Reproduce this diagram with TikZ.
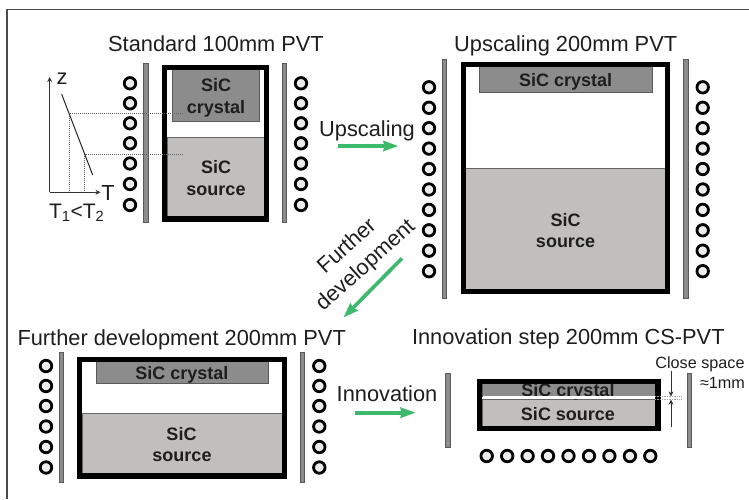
\documentclass[tikz,border=0pt]{standalone}
\usepackage{fontspec}
\setmainfont{Liberation Sans}
\usepackage{xcolor}
\usetikzlibrary{arrows.meta}
\definecolor{arrowgreen}{HTML}{3CB96A}
\definecolor{crystalgray}{HTML}{8C8C8C}
\definecolor{sourcegray}{HTML}{C0BFBE}
\definecolor{textdark}{HTML}{1E1E1E}
\tikzstyle{title}     = [anchor=base, inner sep=0pt, text=textdark, font=\fontsize{21.8}{24}\selectfont]
\tikzstyle{small}     = [anchor=base, inner sep=0pt, text=textdark, font=\fontsize{16.2}{18}\selectfont]
\tikzstyle{sic}       = [anchor=base, inner sep=0pt, text=textdark, font=\fontsize{18}{20}\selectfont\bfseries]
\tikzstyle{crucible}  = [draw=black, line width=5.2pt]
\tikzstyle{crystal}   = [draw=black!65, line width=0.8pt, fill=crystalgray]
\tikzstyle{source}    = [draw=black!60, line width=0.8pt, fill=sourcegray]
\tikzstyle{bar}       = [draw=black!65, line width=0.8pt, fill=black!45]
\tikzstyle{coil}      = [circle, draw=black, line width=2.8pt, fill=black!7, minimum size=11.5pt, inner sep=0pt]
\tikzstyle{arrow}     = [-{Stealth[length=15pt, width=10pt, inset=1pt]}, line width=3.6pt, draw=arrowgreen]
\tikzstyle{axis}      = [-{Stealth[length=5pt, width=5pt]}, line width=0.9pt, draw=black!80]
\tikzstyle{guide}     = [densely dotted, line width=1pt, draw=black!60]

\begin{document}
\begin{tikzpicture}[x=1pt, y=-1pt]
    \useasboundingbox (0,0) rectangle (749,499);

    % Outer frame (only left and top show)
    \draw[line width=1.1pt, draw=black!70] (7,499) -- (7,9.5) -- (749,9.5);

    % Standard 100mm PVT
    \node (title1) [title] at (216,51.7) {Standard 100mm PVT};
    \fill[white] (164.5,67.5) rectangle (266.5,219);
    \draw[source] (167,137) rectangle (264,217);
    \draw[crystal] (172.7,68) rectangle (259,121.5);
    \draw[crucible] (164.5,67.5) rectangle (266.5,219);
    \draw[bar] (143.7,63) rectangle (148,222.7);
    \draw[bar] (282.5,63) rectangle (286.8,222.7);
    \foreach \y in {83.3,103.3,123.3,143.3,163.5,184,205} {
        \node (coilA\y) [coil] at (130,\y) {};
        \node (coilB\y) [coil] at (301,\y) {};
    }
    \node (crystal1a) [sic] at (216,91.7) {SiC};
    \node (crystal1b) [sic] at (216,113.3) {crystal};
    \node (source1a) [sic] at (216,173) {SiC};
    \node (source1b) [sic] at (216,195.7) {source};

    % Temperature plot
    \coordinate (origin) at (49.7,192.3);
    \coordinate (ztip) at (49.7,77);
    \coordinate (ttip) at (100.5,192.3);
    \coordinate (g1) at (61.7,94.3);
    \coordinate (g2) at (92.7,175);
    \coordinate (t1top) at (69.7,113);
    \coordinate (t2top) at (84.7,154);
    \coordinate (t1end) at (183,113);
    \coordinate (t2end) at (183,154);
    \draw[guide] (t1end) -- (t1top) -- (t1top |- origin);
    \draw[guide] (t2end) -- (t2top) -- (t2top |- origin);
    \draw[axis] (origin) -- (ztip);
    \draw[axis] (origin) -- (ttip);
    \draw[line width=1pt, draw=black!85] (g1) -- (g2);
    \node (zlabel) [title] at (62,84.3) {z};
    \node (tlabel) [title] at (108,200) {T};
    \node (tcompare) [title, font=\fontsize{21}{24}\selectfont] at (76.7,218) {T\textsubscript{1}<T\textsubscript{2}};

    % Upscaling 200mm PVT
    \node (title2) [title] at (565.7,51.7) {Upscaling 200mm PVT};
    \draw[source] (465.7,168.7) rectangle (665,289);
    \draw[crystal] (479.3,66) rectangle (652,92.7);
    \draw[crucible] (463.1,64.4) rectangle (667.7,291.4);
    \draw[bar] (442.5,59.7) rectangle (446.8,298);
    \draw[bar] (683.8,59.7) rectangle (688,298);
    \foreach \y in {87.3,107.8,128.2,148.6,169,189.5,209.9,230.3,250.7,271.2} {
        \node (coilC\y) [coil] at (429,\y) {};
        \node (coilD\y) [coil] at (702.7,\y) {};
    }
    \node (crystal2) [sic] at (565.7,86.7) {SiC crystal};
    \node (source2a) [sic] at (565.5,226) {SiC};
    \node (source2b) [sic] at (565.5,247.3) {source};

    % Further development 200mm PVT
    \node (title3) [title] at (181.7,345) {Further development 200mm PVT};
    \draw[source] (82.3,413) rectangle (282,473.3);
    \draw[crystal] (96.3,361) rectangle (268.7,383.3);
    \draw[crucible] (79.7,359.7) rectangle (284.7,476);
    \draw[bar] (59.2,352.3) rectangle (63.5,482.3);
    \draw[bar] (300.5,352.3) rectangle (304.8,482.3);
    \foreach \y in {366,386,406,426.5,447,467.5} {
        \node (coilE\y) [coil] at (46,\y) {};
        \node (coilF\y) [coil] at (319.3,\y) {};
    }
    \node (crystal3) [sic] at (182,379.3) {SiC crystal};
    \node (source3a) [sic] at (181.5,440) {SiC};
    \node (source3b) [sic] at (182,461.7) {source};

    % Innovation step 200mm CS-PVT
    \node (title4) [title] at (568.3,344) {Innovation step 200mm CS-PVT};
    \draw[source] (482.7,399) rectangle (655,426.3);
    \draw[crystal] (482.7,383) rectangle (655,396.3);
    \node (crystal4) [sic] at (568,396.7) {SiC crystal};
    \fill[white] (482.7,396.3) rectangle (655,398.6);
    \node (source4) [sic] at (568,420) {SiC source};
    \draw[crucible] (479.8,381.1) rectangle (657.9,428.7);
    \draw[bar] (445.6,373.7) rectangle (450,447);
    \draw[bar] (687,373.7) rectangle (691.4,447);
    \foreach \x in {486.7,507.2,527.6,548,568.5,589,609.4,629.9,650.3} {
        \node (coilG\x) [coil] at (\x,456) {};
    }

    % Close space marker
    \coordinate (gapA) at (655,396.6);
    \coordinate (gapB) at (655,399.4);
    \coordinate (gapTop) at (671,370.5);
    \coordinate (gapTopEnd) at (671,396.4);
    \coordinate (gapLow) at (671,427.3);
    \coordinate (gapLowEnd) at (671,399.6);
    \draw[densely dotted, line width=0.7pt, draw=black!35] (gapA) -- ++(26,0);
    \draw[densely dotted, line width=0.7pt, draw=black!35] (gapB) -- ++(26,0);
    \draw[-{Stealth[length=5pt, width=5pt]}, line width=0.8pt, draw=black!80] (gapTop) -- (gapTopEnd);
    \draw[-{Stealth[length=5pt, width=5pt]}, line width=0.8pt, draw=black!80] (gapLow) -- (gapLowEnd);
    \node (closeA) [small] at (700,368.7) {Close space};
    \node (closeB) [small] at (722.5,388) {≈1mm};

    % Step labels
    \node (upLabel) [title] at (367,136) {Upscaling};
    \node (innoLabel) [title] at (387,401) {Innovation};
    \node (furtherA) [title, anchor=center, rotate=42] at (346,245) {Further};
    \node (furtherB) [title, anchor=center, rotate=42] at (366,266) {development};

    % Step arrows
    \coordinate (up1) at (338,146);
    \coordinate (up2) at (398.5,146);
    \coordinate (further1) at (402,258.3);
    \coordinate (further2) at (343.3,317.7);
    \coordinate (inno1) at (355,412.7);
    \coordinate (inno2) at (415.7,412.7);
    \draw[arrow] (up1) -- (up2);
    \draw[arrow] (further1) -- (further2);
    \draw[arrow] (inno1) -- (inno2);
\end{tikzpicture}
\end{document}
